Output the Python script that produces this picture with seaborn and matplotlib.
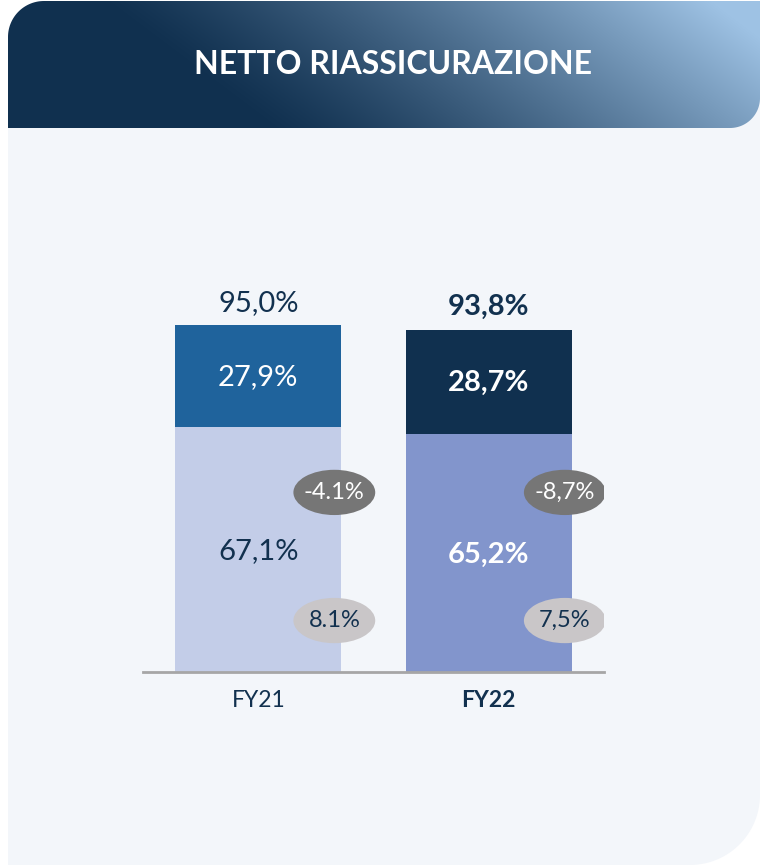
import numpy as np
import pandas as pd
import seaborn as sns
import matplotlib.pyplot as plt
from matplotlib.path import Path
from matplotlib.patches import PathPatch, Ellipse

# data
years = ['FY21', 'FY22']
loss_ratio = [67.1, 65.2]
expense_ratio = [27.9, 28.7]
combined = [95.0, 93.8]
loss_lbl = ['67,1%', '65,2%']
exp_lbl = ['27,9%', '28,7%']
tot_lbl = ['95,0%', '93,8%']
delta_top = ['-4.1%', '-8,7%']
delta_bot = ['8.1%', '7,5%']

NAVY = '#12314f'
BG = '#f3f6fa'
top_cols = ['#1f639c', '#10304f']
bot_cols = ['#c3cde8', '#8295cc']

sns.set_theme(style='white')
plt.rcParams['font.family'] = ['Lato', 'DejaVu Sans']

W, H = 760, 865
fig = plt.figure(figsize=(W / 100, H / 100), dpi=100, facecolor='white')

# background in pixel coords
bg = fig.add_axes([0, 0, 1, 1])
bg.axis('off')


def rounded_rect(x0, y0, x1, y1, r_tl=0, r_br=0, n=30):
    pts = []
    if r_tl:
        a = np.linspace(np.pi, 1.5 * np.pi, n)
        pts += list(zip(x0 + r_tl + r_tl * np.cos(a), y0 + r_tl + r_tl * np.sin(a)))
    else:
        pts.append((x0, y0))
    pts.append((x1, y0))
    if r_br:
        a = np.linspace(0, 0.5 * np.pi, n)
        pts += list(zip(x1 - r_br + r_br * np.cos(a), y1 - r_br + r_br * np.sin(a)))
    else:
        pts.append((x1, y1))
    pts.append((x0, y1))
    pts.append(pts[0])
    return Path(pts, closed=True)


panel = PathPatch(rounded_rect(8, 10, W, H, r_tl=30, r_br=70), fc=BG, ec='none', zorder=1)
bg.add_patch(panel)

hdr = PathPatch(rounded_rect(8, 1, W, 128, r_tl=36, r_br=30), fc='none', ec='none')
bg.add_patch(hdr)
xx, yy = np.meshgrid(np.arange(W), np.arange(129))
t = np.clip((xx - 270) / 500 * 0.82 + (128 - yy) / 128 * 0.28, 0, 1) ** 1.2
dark = np.array([16, 48, 79]) / 255
light = np.array([158, 194, 228]) / 255
img = dark[None, None, :] * (1 - t[..., None]) + light[None, None, :] * t[..., None]
im = bg.imshow(img, extent=(0, W, 129, 0), aspect='auto', interpolation='bilinear', zorder=2)
im.set_clip_path(hdr)
bg.set_xlim(0, W)
bg.set_ylim(H, 0)
bg.text(393, 65, 'NETTO RIASSICURAZIONE', ha='center', va='center',
        color='white', fontsize=23, fontweight='bold', zorder=3)

# chart axes: baseline at y=672px, 3.65 px per point
ax = fig.add_axes([143 / W, (H - 672) / H, 461 / W, 532 / H])
ax.patch.set_alpha(0)
df = pd.DataFrame({'Year': years, 'Total': combined, 'Loss': loss_ratio})
sns.barplot(data=df, x='Year', y='Total', hue='Year', palette=top_cols,
            width=0.72, saturation=1, legend=False, linewidth=0, ax=ax)
sns.barplot(data=df, x='Year', y='Loss', hue='Year', palette=bot_cols,
            width=0.72, saturation=1, legend=False, linewidth=0, ax=ax)
ax.set_xlim(-0.5, 1.5)
ax.set_ylim(0, 532 / 3.65)
ax.set_xlabel('')
ax.set_ylabel('')
ax.set_yticks([])
for s in ['top', 'right', 'left']:
    ax.spines[s].set_visible(False)
ax.spines['bottom'].set_color('#a6a6a6')
ax.spines['bottom'].set_linewidth(2)
ax.tick_params(axis='x', length=0, pad=13, labelsize=16.5, labelcolor=NAVY)
for i, lab in enumerate(ax.get_xticklabels()):
    if i == 1:
        lab.set_fontweight('bold')

for i in range(2):
    bold = 'bold' if i == 1 else 'normal'
    ax.text(i, combined[i] + 6.2, tot_lbl[i], ha='center', va='center',
            fontsize=21, color=NAVY, fontweight=bold)
    ax.text(i, loss_ratio[i] + expense_ratio[i] / 2 - 0.2, exp_lbl[i], ha='center',
            va='center', fontsize=21, color='white', fontweight=bold)
    ax.text(i, loss_ratio[i] / 2 - 0.5, loss_lbl[i], ha='center', va='center',
            fontsize=21, color=NAVY if i == 0 else 'white', fontweight=bold)
    # badges at right edge of each bar
    bx = i + 0.33
    for by, txt, fc, tc in [(49.2, delta_top[i], '#767676', 'white'),
                            (14.1, delta_bot[i], '#c9c6c8', NAVY)]:
        ax.add_patch(Ellipse((bx, by), 0.355, 12.4, fc=fc, ec='none', zorder=5))
        ax.text(bx, by, txt, ha='center', va='center', fontsize=17,
                color=tc, zorder=6)

fig.savefig('out.png', dpi=100, facecolor='white')
